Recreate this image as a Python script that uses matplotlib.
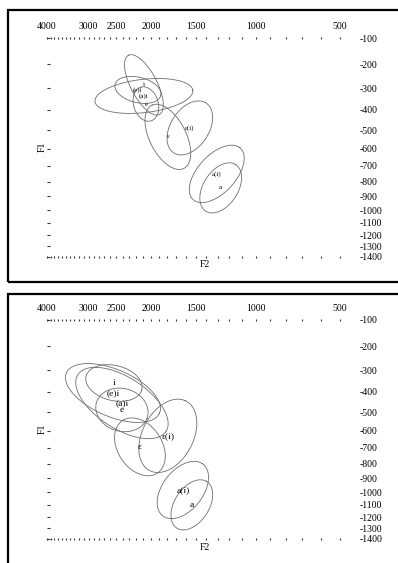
import numpy as np
import matplotlib
matplotlib.use("Agg")
import matplotlib.pyplot as plt
from matplotlib.patches import Rectangle
from matplotlib.ticker import FixedLocator, FuncFormatter

plt.rcParams['font.family'] = ['Liberation Serif', 'DejaVu Serif']

# Vowel categories (same order in both panels)
vowels = ['i', '(e)i', '(a)i', 'e', 'ɛ(i)', 'ɛ', 'a(i)', 'a']

# Upper panel: mean formants (Hz) and spread ellipses (semi-axes in Bark, angle in degrees)
top_f2 = [2093, 2175, 2093, 2066, 1559, 1796, 1307, 1273]
top_f1 = [286, 308, 335, 372, 489, 536, 751, 842]
top_major = [1.49, 1.01, 2.11, 0.79, 1.32, 1.58, 1.54, 1.23]
top_minor = [0.57, 0.57, 0.75, 0.53, 0.83, 0.79, 0.83, 0.75]
top_angle = [116, -15, 7, 105, 60, 115, 50, 60]

# Lower panel
bot_f2 = [2538, 2554, 2410, 2410, 1796, 2147, 1631, 1539]
bot_f1 = [358, 405, 454, 489, 630, 695, 984, 1099]
bot_major = [1.23, 2.19, 2.28, 1.14, 1.75, 1.40, 1.45, 1.23]
bot_minor = [0.79, 1.05, 1.14, 0.96, 1.10, 0.96, 0.88, 0.75]
bot_angle = [-15, -25, -35, -20, 65, 120, 55, 60]

# Axis ticks
f2_labelled = [4000, 3000, 2500, 2000, 1500, 1000, 500]
f2_ticks = list(range(500, 4001, 100))
f1_ticks = list(range(-1400, -99, 100))


def bark(f):
    with np.errstate(all='ignore'):
        f = np.asarray(f, float)
        return 26.81 * f / (1960.0 + f) - 0.53


def hz(z):
    with np.errstate(all='ignore'):
        z = np.asarray(z, float)
        return 1960.0 * (z + 0.53) / (26.28 - z)


y_fwd = lambda y: -bark(-np.asarray(y, float))
y_inv = lambda z: -hz(-np.asarray(z, float))

W, H = 398, 563
fig = plt.figure(figsize=(W / 100, H / 100), dpi=100)

# Panel frames
for top in (10, 294):
    fig.add_artist(Rectangle((8 / W, 1 - (top + 272) / H), 400 / W, 272 / H,
                             transform=fig.transFigure, fill=False,
                             lw=1.6, ec='black'))


def panel(axtop, f2, f1, major, minor, angle, lab_size):
    ax = fig.add_axes([47 / W, 1 - (axtop + 219) / H, 293 / W, 219 / H])
    ax.set_xscale('function', functions=(bark, hz))
    ax.set_yscale('function', functions=(y_fwd, y_inv))
    ax.set_xlim(4000, 500)
    ax.set_ylim(-1400, -100)
    for s in ax.spines.values():
        s.set_visible(False)
    ax.patch.set_alpha(0)

    t = np.linspace(0, 2 * np.pi, 240)
    for name, cx, cy, a, b, ang in zip(vowels, f2, f1, major, minor, angle):
        th = np.radians(ang)
        # offsets in screen orientation: right = lower F2 bark, up = lower F1 bark
        du = a * np.cos(t) * np.cos(th) - b * np.sin(t) * np.sin(th)
        dv = a * np.cos(t) * np.sin(th) + b * np.sin(t) * np.cos(th)
        ex = hz(bark(cx) - du)
        ey = -hz(bark(cy) - dv)
        ax.plot(ex, ey, color='#6e6e6e', lw=0.6)
        ax.text(cx, -cy, name, fontsize=lab_size, ha='center', va='center')

    ax.xaxis.set_major_locator(FixedLocator(f2_ticks))
    ax.xaxis.set_major_formatter(FuncFormatter(
        lambda v, p: str(int(round(v))) if int(round(v)) in f2_labelled else ''))
    ax.tick_params(axis='x', top=True, bottom=True, labeltop=True,
                   labelbottom=False, direction='inout', length=2,
                   width=0.8, color='#333333', labelsize=7, pad=4)
    ax.yaxis.set_major_locator(FixedLocator(f1_ticks))
    ax.yaxis.set_major_formatter(FuncFormatter(lambda v, p: str(int(round(v)))))
    ax.tick_params(axis='y', left=True, right=False, labelleft=False,
                   labelright=True, direction='in', length=2.2, width=0.8,
                   color='#333333', labelsize=7, pad=14)
    for lab in ax.get_yticklabels():
        lab.set_horizontalalignment('left')

    fig.text(205 / W, 1 - (axtop + 227) / H, 'F2', fontsize=7,
             ha='center', va='center')
    fig.text(42 / W, 1 - (axtop + 109) / H, 'F1', fontsize=7,
             ha='center', va='center', rotation=90)
    return ax


panel(38, top_f2, top_f1, top_major, top_minor, top_angle, 5)
panel(320, bot_f2, bot_f1, bot_major, bot_minor, bot_angle, 6.8)

fig.savefig('out.png', dpi=100)
